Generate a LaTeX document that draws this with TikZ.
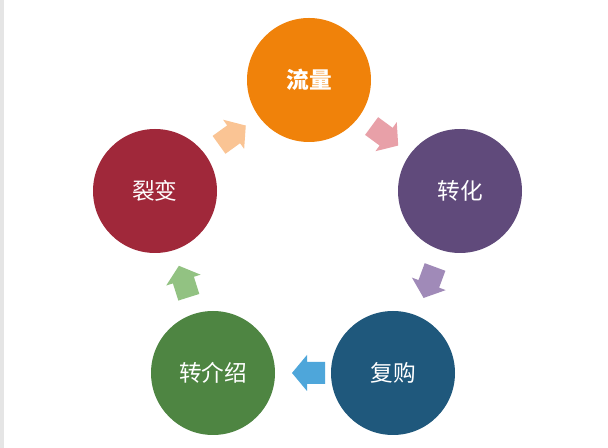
\documentclass[tikz,border=0pt]{standalone}
\usepackage{fontspec}
\newfontfamily\cjk{Noto Sans CJK SC}
\newfontfamily\cjkl{Noto Sans CJK SC Light}
\usetikzlibrary{calc}
\definecolor{cA}{HTML}{F0820A}
\definecolor{cB}{HTML}{604A7B}
\definecolor{cC}{HTML}{1F587C}
\definecolor{cD}{HTML}{4E8542}
\definecolor{cE}{HTML}{A0283A}
\definecolor{aA}{HTML}{E8A0A8}
\definecolor{aB}{HTML}{A08AB8}
\definecolor{aC}{HTML}{4EA6DA}
\definecolor{aD}{HTML}{92C282}
\definecolor{aE}{HTML}{FAC494}
\tikzset{
  ball/.style={circle,minimum size=124pt*0.75/0.75,inner sep=0pt,text=white,font=\cjk\fontsize{17}{20}\selectfont},
  blockarrow/.pic={\fill[pic actions] (-16,-11) -- (2,-11) -- (2,-18) -- (17,0) -- (2,18) -- (2,11) -- (-16,11) -- cycle;}
}
\begin{document}
\begin{tikzpicture}[x=0.75pt,y=-0.75pt]
\useasboundingbox[fill=white] (0,0) rectangle (608,448);
\fill[gray!20] (0,0) rectangle (4,448);
\node[ball,fill=cA,minimum size=93pt] (a) at (309,80) {\textbf{流量}};
\node[ball,fill=cB,minimum size=93pt] (b) at (460,191) {转化};
\node[ball,fill=cC,minimum size=93pt] (c) at (393,373) {复购};
\node[ball,fill=cD,minimum size=93pt] (d) at (213,373) {转介绍};
\node[ball,fill=cE,minimum size=93pt] (e) at (155,191) {裂变};
\pic[fill=aA,rotate=-36.3] at ($(a)!0.5!(b)$) {blockarrow};
\pic[fill=aB,rotate=-110.3] at ($(b)!0.5!(c)+(3,0)$) {blockarrow};
\pic[fill=aC,rotate=180] at ($(c)!0.5!(d)+(6,0)$) {blockarrow};
\pic[fill=aD,rotate=107.5] at ($(d)!0.5!(e)$) {blockarrow};
\pic[fill=aE,rotate=35.8] at ($(e)!0.5!(a)$) {blockarrow};
\end{tikzpicture}
\end{document}
